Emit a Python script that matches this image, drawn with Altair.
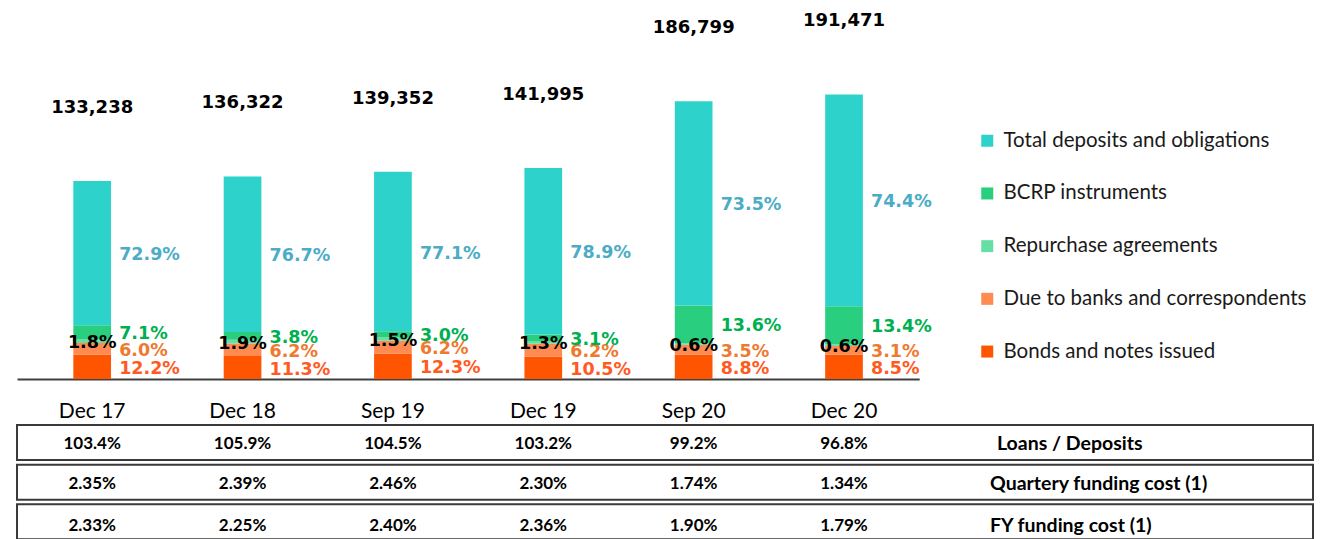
import altair as alt
import pandas as pd

# ---------------- data ----------------
periods = ["Dec 17", "Dec 18", "Sep 19", "Dec 19", "Sep 20", "Dec 20"]
totals = [133238, 136322, 139352, 141995, 186799, 191471]

series = [
    "Total deposits and obligations",
    "BCRP instruments",
    "Repurchase agreements",
    "Due to banks and correspondents",
    "Bonds and notes issued",
]
pct_deposits = [72.9, 76.7, 77.1, 78.9, 73.5, 74.4]
pct_bcrp = [7.1, 3.8, 3.0, 3.1, 13.6, 13.4]
pct_repo = [1.8, 1.9, 1.5, 1.3, 0.6, 0.6]
pct_due = [6.0, 6.2, 6.2, 6.2, 3.5, 3.1]
pct_bonds = [12.2, 11.3, 12.3, 10.5, 8.8, 8.5]

row_labels = ["Loans / Deposits", "Quartery funding cost (1)", "FY funding cost (1)"]
loans_deposits = ["103.4%", "105.9%", "104.5%", "103.2%", "99.2%", "96.8%"]
quarterly_cost = ["2.35%", "2.39%", "2.46%", "2.30%", "1.74%", "1.34%"]
fy_cost = ["2.33%", "2.25%", "2.40%", "2.36%", "1.90%", "1.79%"]

bar_colors = ["#2DD3CB", "#29CF7E", "#66DFA6", "#FF8B52", "#FF5500"]
label_colors = ["#4BACC6", "#00B050", "#000000", "#EE7A2F", "#FF5A1F"]

# ---------------- tables ----------------
pcts = [pct_deposits, pct_bcrp, pct_repo, pct_due, pct_bonds]
stack_idx = {s: 4 - i for i, s in enumerate(series)}  # bonds at the bottom
rows = []
for pi, p in enumerate(periods):
    base = 0.0
    seg = [(si, s, pcts[si][pi]) for si, s in enumerate(series)]
    for si, s, v in sorted(seg, key=lambda t: stack_idx[t[1]]):
        amt = v / 100.0 * totals[pi]
        rows.append({
            "period": p, "series": s, "pct": v, "amount": amt,
            "order": stack_idx[s], "mid": base + amt / 2.0,
            "label": f"{v:.1f}%", "lcolor": label_colors[si],
        })
        base += amt
df = pd.DataFrame(rows)
tot_df = pd.DataFrame({"period": periods, "total": totals})

tbl_rows = []
for ri, vals in enumerate([loans_deposits, quarterly_cost, fy_cost]):
    for p, v in zip(periods, vals):
        tbl_rows.append({"period": p, "row": row_labels[ri], "value": v})
tbl_df = pd.DataFrame(tbl_rows)
rowlab_df = pd.DataFrame({"row": row_labels})

# ---------------- scales / encodings ----------------
W, H = 1307, 531
x_enc = alt.X(
    "period:N",
    sort=periods,
    scale=alt.Scale(domain=periods, range=[9, 911.2], paddingInner=0, paddingOuter=0),
    axis=alt.Axis(
        title=None, orient="bottom", offset=-160, labelPadding=21, ticks=False,
        tickSize=0, domainColor="#404040", domainWidth=2, labelAngle=0,
        labelFont="Lato", labelFontSize=21, labelColor="#000000", grid=False,
    ),
)
y_scale = alt.Scale(domain=[0, 249579], range=[371, 0], nice=False, zero=True)
row_scale = alt.Scale(domain=row_labels, range=[417, 531.3], paddingInner=0.117, paddingOuter=0)

bars = alt.Chart(df).mark_bar(size=37.7).encode(
    x=x_enc,
    y=alt.Y("amount:Q", stack="zero", scale=y_scale, axis=None),
    color=alt.Color(
        "series:N",
        scale=alt.Scale(domain=series, range=bar_colors),
        legend=alt.Legend(
            orient="none", legendX=969, legendY=122.5, title=None,
            symbolType="square", symbolSize=144, symbolStrokeWidth=0,
            labelFont="Lato", labelFontSize=20.5, labelColor="#1a1a1a",
            rowPadding=31.7, labelOffset=6, padding=0, labelLimit=320,
        ),
    ),
    order=alt.Order("order:Q", sort="ascending"),
)

totals_text = alt.Chart(tot_df).mark_text(
    font="DejaVu Sans", fontWeight="bold", fontSize=18, dy=-73, baseline="middle",
    color="#000000",
).encode(
    x=x_enc,
    y=alt.Y("total:Q", scale=y_scale, axis=None),
    text=alt.Text("total:Q", format=","),
)

side_labels = alt.Chart(df).transform_filter(
    alt.datum.series != "Repurchase agreements"
).mark_text(
    font="DejaVu Sans", fontWeight="bold", fontSize=17.5, align="left", dx=27, dy=2,
    baseline="middle",
).encode(
    x=x_enc,
    y=alt.Y("mid:Q", scale=y_scale, axis=None),
    text="label:N",
    color=alt.Color("lcolor:N", scale=None),
)

repo_labels = alt.Chart(df).transform_filter(
    alt.datum.series == "Repurchase agreements"
).mark_text(
    font="DejaVu Sans", fontWeight="bold", fontSize=17.5, align="center", dy=2,
    baseline="middle", color="#000000",
).encode(
    x=x_enc,
    y=alt.Y("mid:Q", scale=y_scale, axis=None),
    text="label:N",
)

boxes = alt.Chart(rowlab_df).mark_rect(
    fill="#ffffff", stroke="#3a3a3a", strokeWidth=2
).encode(
    x=alt.value(9), x2=alt.value(1305),
    y=alt.Y("row:N", scale=row_scale, axis=None),
)

row_dy = [0, 2, 6]
row_dx = [7, 0, 0]
tbl_layers = []
for ri, rl in enumerate(row_labels):
    tbl_layers.append(
        alt.Chart(tbl_df).transform_filter(alt.datum.row == rl).mark_text(
            font="Lato", fontWeight="bold", fontSize=17, baseline="middle",
            color="#000000", dy=row_dy[ri],
        ).encode(
            x=x_enc,
            y=alt.Y("row:N", scale=row_scale, axis=None),
            text="value:N",
        )
    )
    tbl_layers.append(
        alt.Chart(rowlab_df).transform_filter(alt.datum.row == rl).mark_text(
            font="Lato", fontWeight="bold", fontSize=19.5, baseline="middle",
            align="left", color="#000000", dy=row_dy[ri], dx=row_dx[ri],
        ).encode(
            x=alt.value(982),
            y=alt.Y("row:N", scale=row_scale, axis=None),
            text="row:N",
        )
    )

chart = alt.layer(
    boxes, *tbl_layers, bars, totals_text, side_labels, repo_labels
).resolve_scale(y="independent", color="independent").properties(
    width=W, height=H, padding=0, background="#ffffff"
).configure_view(stroke=None)

chart.save("out.html", embed_options={"renderer": "svg", "actions": False})
